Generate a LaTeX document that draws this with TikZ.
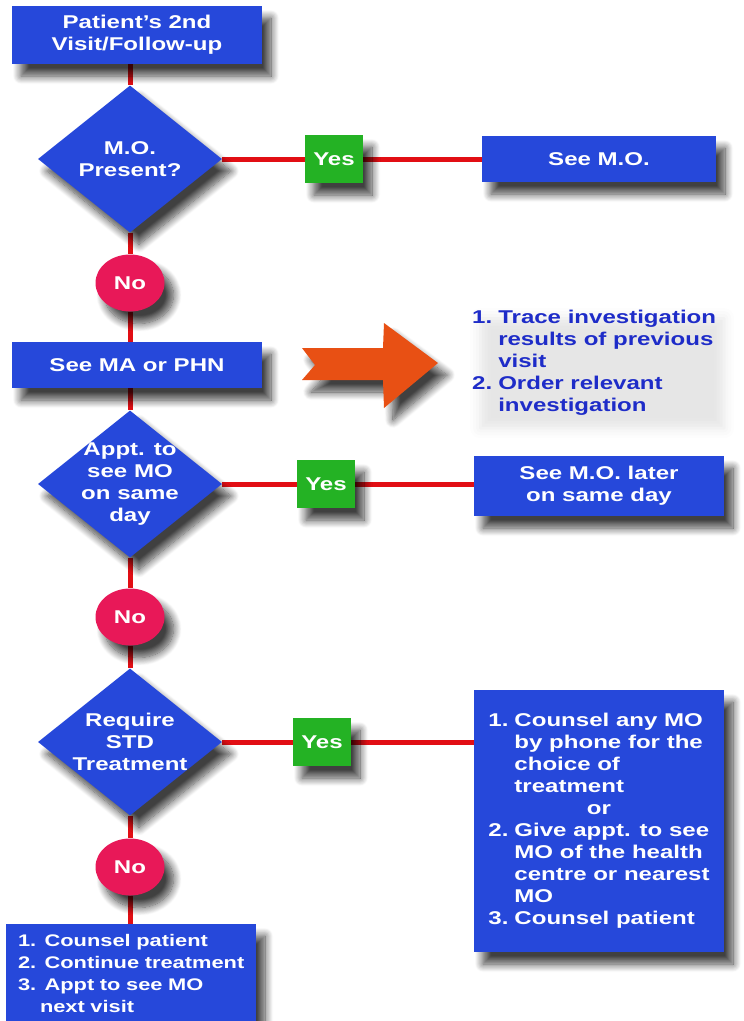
\documentclass[tikz,border=0pt]{standalone}
\usepackage{fontspec}
\setmainfont[FakeStretch=1.3]{Liberation Sans}
\usetikzlibrary{shapes.geometric,shadows.blur,backgrounds}
\definecolor{boxblue}{RGB}{38,72,218}
\definecolor{linered}{RGB}{226,14,20}
\definecolor{yesgreen}{RGB}{36,178,36}
\definecolor{nored}{RGB}{232,24,88}
\definecolor{arroworange}{RGB}{232,80,20}
\definecolor{textblue}{RGB}{30,44,200}
\tikzset{
  shd/.style={blur shadow={shadow xshift=9pt, shadow yshift=-12pt, shadow blur radius=8pt, shadow blur steps=12, shadow opacity=75}},
  bfont/.style={font=\bfseries\fontsize{18.5}{22}\selectfont},
  bluebox/.style={draw=none, fill=boxblue, text=white, bfont, align=center, inner sep=0pt, shd},
  decision/.style={diamond, draw=none, fill=boxblue, minimum width=184pt, minimum height=147pt, inner sep=0pt, shd},
  dtext/.style={text=white, bfont, align=center},
  yesbox/.style={draw=none, fill=yesgreen, text=white, minimum width=58pt, minimum height=48pt, inner sep=0pt, bfont, shd},
  nocirc/.style={ellipse, draw=none, fill=nored, text=white, minimum width=69pt, minimum height=57pt, inner sep=0pt, bfont, shd},
  conn/.style={draw=linered, line width=5pt},
}
\begin{document}
\begin{tikzpicture}[x=1pt,y=-1pt]
\useasboundingbox (0,0) rectangle (744,1021);

% nodes
\node[bluebox, minimum width=250pt, minimum height=58pt] (top) at (137,35) {Patient's 2nd\\Visit/Follow-up};
\node[decision] (d1) at (130,159) {};
\node[dtext] (d1t) at (d1.center) {M.O.\\Present?};
\node[yesbox] (yes1) at (334,159) {Yes};
\node[bluebox, minimum width=234pt, minimum height=46pt] (seemo) at (599,159) {See M.O.};
\node[nocirc] (no1) at (130,283) {No};
\node[bluebox, minimum width=250pt, minimum height=46pt] (seema) at (137,365) {See MA or PHN};

% orange arrow
\fill[arroworange, shd]
  (302,348) -- (383,348) -- (384,323) -- (438,363) -- (384,408) -- (383,380) -- (302,380) -- (315,365) -- cycle;

\node[text=textblue, bfont, align=left, inner sep=0pt, anchor=north west,
      blur shadow={shadow xshift=8pt, shadow yshift=-10pt, shadow blur radius=10pt, shadow opacity=10}] (trace) at (472,308)
  {\begin{tabular}{@{}l@{\hspace{6pt}}l@{}}
   1. & Trace investigation\\
      & results of previous\\
      & visit\\
   2. & Order relevant\\
      & investigation
   \end{tabular}};

\node[decision] (d2) at (130,484) {};
\node[dtext] (d2t) at (d2.center) {Appt. to\\see MO\\on same\\day};
\node[yesbox] (yes2) at (326,484) {Yes};
\node[bluebox, minimum width=250pt, minimum height=60pt] (later) at (599,486) {See M.O. later\\on same day};
\node[nocirc] (no2) at (130,617) {No};

\node[decision] (d3) at (130,742) {};
\node[dtext] (d3t) at (d3.center) {Require\\STD\\Treatment};
\node[yesbox] (yes3) at (322,742) {Yes};
\node[bluebox, minimum width=250pt, minimum height=262pt] (big) at (599,821)
  {\begin{tabular}{@{}l@{\hspace{6pt}}l@{}}
   1. & Counsel any MO\\
      & by phone for the\\
      & choice of\\
      & treatment\\
   \multicolumn{2}{c}{or}\\
   2. & Give appt. to see\\
      & MO of the health\\
      & centre or nearest\\
      & MO\\
   3. & Counsel patient
   \end{tabular}};
\node[nocirc] (no3) at (130,867) {No};
\node[bluebox, minimum width=250pt, minimum height=102pt, align=left, text width=226pt,
      font=\bfseries\fontsize{16.8}{22}\selectfont] (bottom) at (131,975)
  {\begin{tabular}{@{}l@{}}
   1. Counsel patient\\
   2. Continue treatment\\
   3. Appt to see MO\\
   \hspace*{22pt}next visit
   \end{tabular}};

% connectors
\begin{scope}[on background layer]
\draw[conn] (d1.north |- top.south) -- (d1.north);
\draw[conn] (d1.east) -- (yes1.west);
\draw[conn] (yes1.east) -- (yes1.east -| seemo.west);
\draw[conn] (d1.south) -- (no1.north);
\draw[conn] (no1.south) -- (no1.south |- seema.north);
\draw[conn] (d2.north |- seema.south) -- (d2.north);
\draw[conn] (d2.east) -- (yes2.west);
\draw[conn] (yes2.east) -- (yes2.east -| later.west);
\draw[conn] (d2.south) -- (no2.north);
\draw[conn] (no2.south) -- (d3.north);
\draw[conn] (d3.east) -- (yes3.west);
\draw[conn] (yes3.east) -- (yes3.east -| big.west);
\draw[conn] (d3.south) -- (no3.north);
\draw[conn] (no3.south) -- (no3.south |- bottom.north);
\end{scope}
\end{tikzpicture}
\end{document}
